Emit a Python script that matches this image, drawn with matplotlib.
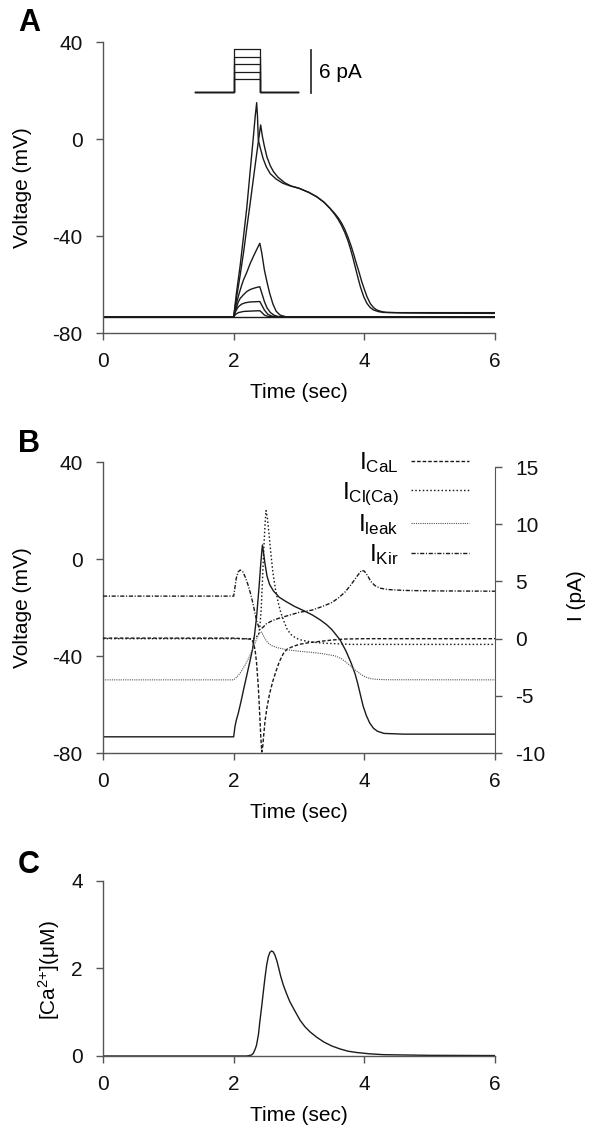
import matplotlib
matplotlib.use("Agg")
import matplotlib.pyplot as plt

plt.rcParams["font.family"] = ["Liberation Sans", "DejaVu Sans"]
plt.rcParams["mathtext.fontset"] = "custom"
plt.rcParams["mathtext.rm"] = "Liberation Sans"
plt.rcParams["mathtext.it"] = "Liberation Sans:italic"
plt.rcParams["mathtext.bf"] = "Liberation Sans:bold"
plt.rcParams["axes.unicode_minus"] = False

# ---------------- Panel A: voltage responses to current steps ----------------
t_flat = [0, 6]
v_flat = [-73.3, -73.3]

t_s1 = [0, 2.0, 2.03, 2.07, 2.15, 2.3, 2.40, 2.43, 2.47, 2.52, 2.6, 6.0]
v_s1 = [-73.3, -73.3, -72.3, -71.6, -71.1, -70.9, -70.8, -71.5, -72.6, -73.1, -73.3, -73.3]

t_s2 = [0, 2.0, 2.03, 2.07, 2.12, 2.18, 2.25, 2.33, 2.40, 2.43, 2.47, 2.52, 2.58, 2.65, 6.0]
v_s2 = [-73.3, -73.3, -71.0, -69.2, -68.1, -67.5, -67.2, -67.1, -67.0, -68.5, -70.5, -72.2, -73.0, -73.3, -73.3]

t_s3 = [0, 2.0, 2.03, 2.07, 2.1, 2.15, 2.2, 2.25, 2.3, 2.35, 2.40, 2.43, 2.47, 2.51, 2.56, 2.62, 2.7, 6.0]
v_s3 = [-73.3, -73.3, -70.5, -67.2, -65.7, -64.2, -62.9, -62.1, -61.6, -61.2, -60.9, -63.5, -67.0, -69.6, -71.5, -72.7, -73.3, -73.3]

t_s4 = [0, 2.0, 2.04, 2.08, 2.12, 2.15, 2.2, 2.25, 2.3, 2.35, 2.40, 2.43, 2.47, 2.51, 2.55, 2.6, 2.65, 2.71, 2.8, 6.0]
v_s4 = [-73.3, -73.3, -68.0, -64.0, -60.5, -58.1, -55.0, -51.5, -48.5, -45.7, -43.0, -47.0, -54.0, -59.0, -63.5, -68.0, -71.0, -72.6, -73.3, -73.3]

t_ap1 = [0, 2.0, 2.04, 2.07, 2.1, 2.16, 2.2, 2.26, 2.3, 2.33, 2.352, 2.365, 2.377, 2.41, 2.45, 2.5,
         2.56, 2.65, 2.75, 2.85, 3.0, 3.15, 3.271, 3.38, 3.475, 3.55, 3.6, 3.65, 3.70, 3.75, 3.79,
         3.83, 3.87, 3.91, 3.94, 3.99, 4.04, 4.09, 4.14, 4.22, 4.29, 4.5, 5.0, 6.0]
v_ap1 = [-73.3, -73.3, -64.0, -58.0, -52.0, -38.0, -28.5, -11.0, 0.5, 9.5, 15.0, 9.0, -0.4, -4.0, -8.0, -11.5,
         -14.3, -16.5, -18.2, -19.2, -20.3, -22.0, -23.8, -26.0, -28.6, -31.2, -33.2, -35.6, -38.5, -42.0, -45.5,
         -49.5, -53.8, -58.0, -61.0, -65.0, -67.8, -69.5, -70.5, -71.2, -71.5, -71.6, -71.6, -71.6]

t_ap2 = [0, 2.0, 2.04, 2.097, 2.15, 2.199, 2.25, 2.301, 2.34, 2.378, 2.413, 2.44, 2.47, 2.51, 2.56,
         2.61, 2.68, 2.78, 2.88, 3.0, 3.15, 3.271, 3.38, 3.475, 3.55, 3.6, 3.65, 3.7, 3.75, 3.8, 3.84,
         3.88, 3.92, 3.96, 3.99, 4.04, 4.09, 4.14, 4.19, 4.27, 4.34, 4.6, 5.0, 6.0]
v_ap2 = [-73.3, -73.3, -66.0, -56.5, -47.0, -37.0, -27.0, -16.5, -8.5, -1.0, 5.8, 1.0, -3.0, -7.5, -11.0,
         -13.5, -15.8, -18.0, -19.4, -20.3, -22.0, -23.8, -26.0, -28.6, -30.8, -32.5, -34.6, -37.2, -40.5, -44.3, -47.8,
         -51.5, -55.0, -58.8, -61.2, -65.0, -67.8, -69.5, -70.5, -71.2, -71.5, -71.7, -71.8, -71.9]

# stimulus inset (drawn in panel A data units)
stim_t = [1.408, 2.005, 2.005, 2.403, 2.403, 2.985]
stim_base = 19.26
stim_levels = [24.74, 27.75, 30.93, 33.94, 36.99]
bar_t = 3.19
bar_v = [19.0, 36.7]

# ---------------- Panel B: voltage and currents ----------------
t_vb = [0, 2.0, 2.02, 2.04, 2.07, 2.11, 2.15, 2.2, 2.25, 2.29, 2.32, 2.35, 2.37, 2.39, 2.41, 2.425,
        2.44, 2.455, 2.48, 2.51, 2.55, 2.61, 2.7, 2.8, 2.93, 3.05, 3.2, 3.32, 3.42, 3.5, 3.56, 3.63,
        3.72, 3.8, 3.86, 3.9, 3.94, 3.98, 4.03, 4.08, 4.14, 4.2, 4.3, 4.6, 6.0]
v_vb = [-73.3, -73.3, -69.0, -66.5, -63.6, -59.0, -54.0, -48.0, -42.0, -37.0, -31.0, -24.0, -17.5, -11.0, -3.5, 1.5,
        5.8, 3.0, -2.0, -7.0, -10.5, -13.2, -15.8, -17.5, -19.5, -21.0, -23.0, -25.0, -27.0, -29.0, -31.0, -33.4,
        -38.0, -43.0, -47.5, -51.5, -56.0, -60.5, -64.5, -67.5, -69.8, -71.0, -71.9, -72.2, -72.2]

t_cal = [0, 2.0, 2.28, 2.31, 2.33, 2.35, 2.377, 2.40, 2.415, 2.43, 2.445, 2.46, 2.48, 2.51, 2.55, 2.6,
         2.65, 2.7, 2.76, 2.82, 2.9, 3.0, 3.15, 3.3, 3.5, 3.7, 4.0, 6.0]
i_cal = [0.05, 0.05, -0.05, -0.5, -1.1, -2.1, -4.2, -6.8, -8.6, -9.9, -9.4, -8.4, -7.2, -6.0, -4.8, -3.7,
         -2.8, -2.0, -1.3, -0.9, -0.7, -0.5, -0.35, -0.25, -0.12, -0.03, 0.0, 0.0]

t_clca = [0, 2.0, 2.3, 2.38, 2.40, 2.42, 2.44, 2.46, 2.48, 2.495, 2.515, 2.54, 2.57, 2.6, 2.64, 2.68,
          2.72, 2.77, 2.82, 2.88, 2.95, 3.05, 3.2, 3.4, 3.6, 3.8, 4.0, 6.0]
i_clca = [0.0, 0.0, 0.0, 0.3, 1.0, 2.5, 5.0, 7.8, 10.0, 11.2, 10.6, 9.2, 7.4, 5.8, 4.3, 3.2,
          2.3, 1.5, 0.8, 0.35, 0.05, -0.15, -0.3, -0.4, -0.45, -0.5, -0.5, -0.5]

t_leak = [0, 2.0, 2.05, 2.1, 2.17, 2.23, 2.28, 2.32, 2.35, 2.38, 2.41, 2.43, 2.46, 2.5, 2.55, 2.6,
          2.68, 2.8, 3.0, 3.2, 3.35, 3.55, 3.65, 3.75, 3.85, 3.92, 3.98, 4.05, 4.12, 4.2, 4.35, 6.0]
i_leak = [-3.6, -3.6, -3.35, -3.0, -2.35, -1.7, -1.05, -0.5, -0.05, 0.35, 0.6, 0.55, 0.2, -0.2, -0.5, -0.65,
          -0.8, -0.95, -1.1, -1.2, -1.3, -1.5, -1.75, -2.2, -2.7, -3.0, -3.25, -3.42, -3.52, -3.56, -3.59, -3.6]

t_kir = [0, 2.0, 2.02, 2.04, 2.07, 2.1, 2.14, 2.18, 2.22, 2.26, 2.3, 2.33, 2.36, 2.40, 2.45, 2.5,
         2.6, 2.7, 2.85, 3.0, 3.2, 3.35, 3.5, 3.6, 3.7, 3.78, 3.85, 3.9, 3.96, 4.0, 4.05, 4.1,
         4.16, 4.24, 4.35, 4.6, 5.0, 6.0]
i_kir = [3.72, 3.72, 4.5, 5.3, 5.85, 6.0, 5.85, 5.35, 4.7, 3.9, 2.95, 2.1, 1.4, 0.8, 1.0, 1.3,
         1.6, 1.8, 2.05, 2.3, 2.5, 2.8, 3.15, 3.55, 4.05, 4.6, 5.15, 5.55, 5.98, 5.9, 5.5, 5.0,
         4.65, 4.42, 4.3, 4.22, 4.18, 4.15]

# ---------------- Panel C: intracellular calcium ----------------
t_ca = [0, 2.2, 2.27, 2.3, 2.33, 2.35, 2.38, 2.40, 2.43, 2.454, 2.48, 2.505, 2.53, 2.555, 2.58, 2.605,
        2.63, 2.66, 2.684, 2.72, 2.76, 2.81, 2.86, 2.94, 3.015, 3.09, 3.17, 3.27, 3.38, 3.5, 3.63,
        3.75, 3.88, 4.08, 4.3, 5.0, 6.0]
ca = [0, 0, 0.02, 0.06, 0.16, 0.25, 0.5, 0.78, 1.15, 1.47, 1.8, 2.08, 2.27, 2.37, 2.40, 2.38,
      2.31, 2.18, 2.04, 1.82, 1.62, 1.42, 1.24, 1.02, 0.82, 0.67, 0.55, 0.43, 0.32, 0.23, 0.16,
      0.11, 0.08, 0.05, 0.03, 0.015, 0.01]

line_c = "#1a1a1a"
spine_c = "#555555"
fs = 15


def style_axis(ax, yticks):
    for side in ["top", "right"]:
        ax.spines[side].set_visible(False)
    for side in ["left", "bottom"]:
        ax.spines[side].set_color(spine_c)
        ax.spines[side].set_linewidth(1.0)
    ax.set_xlim(0, 6)
    ax.set_xticks([0, 2, 4, 6])
    ax.set_yticks(yticks)
    ax.tick_params(axis="both", direction="out", length=5, width=1.0,
                   color=spine_c, labelsize=fs, labelcolor="#111111")
    ax.tick_params(axis="y", pad=9.5)
    ax.tick_params(axis="x", pad=8.5)
    ax.set_xlabel("Time (sec)", fontsize=fs)
    ax.xaxis.set_label_coords(0.5, -0.172)


fig = plt.figure(figsize=(5.91, 11.27), dpi=100)

# ---- A ----
axA = fig.add_axes([0.1743, 0.7045, 0.6633, 0.2582])
for tt, vv in [(t_flat, v_flat), (t_s1, v_s1), (t_s2, v_s2), (t_s3, v_s3),
               (t_s4, v_s4), (t_ap2, v_ap2), (t_ap1, v_ap1)]:
    axA.plot(tt, vv, color=line_c, lw=1.0)
for lev in stim_levels:
    axA.plot(stim_t, [stim_base, stim_base, lev, lev, stim_base, stim_base],
             color=line_c, lw=0.9)
axA.plot([bar_t, bar_t], bar_v, color="#333333", lw=1.3)
axA.text(bar_t + 0.12, 27.4, "6 pA", fontsize=fs, va="center", ha="left")
axA.set_ylim(-80, 40)
style_axis(axA, [-80, -40, 0, 40])
axA.set_ylabel("Voltage (mV)", fontsize=fs)
axA.yaxis.set_label_coords(-0.181, 0.5)

# ---- B ----
axB = fig.add_axes([0.1743, 0.3318, 0.6633, 0.2582])
axB.plot(t_vb, v_vb, color=line_c, lw=1.0)
axB.set_ylim(-80, 40)
style_axis(axB, [-80, -40, 0, 40])
axB.set_ylabel("Voltage (mV)", fontsize=fs)
axB.yaxis.set_label_coords(-0.181, 0.5)

axB2 = axB.twinx()
l_cal, = axB2.plot(t_cal, i_cal, color=line_c, lw=1.0, ls=(0, (2.6, 1.4)),
                   label=r"$\mathregular{I_{CaL}}$")
l_clca, = axB2.plot(t_clca, i_clca, color=line_c, lw=1.0, ls=(0, (1.1, 1.6)),
                    label=r"$\mathregular{I_{Cl(Ca)}}$")
l_leak, = axB2.plot(t_leak, i_leak, color="#555555", lw=0.8, ls=(0, (1.0, 1.0)),
                    label=r"$\mathregular{I_{leak}}$")
l_kir, = axB2.plot(t_kir, i_kir, color=line_c, lw=1.0, ls=(0, (3.0, 1.2, 0.8, 1.2)),
                   label=r"$\mathregular{I_{Kir}}$")
axB2.set_ylim(-10, 15.44)
axB2.set_yticks([-10, -5, 0, 5, 10, 15])
for side in ["top", "left", "bottom"]:
    axB2.spines[side].set_visible(False)
axB2.spines["right"].set_color(spine_c)
axB2.spines["right"].set_bounds(-10, 15)
axB2.tick_params(axis="y", direction="out", length=5, width=1.0, color=spine_c,
                 labelsize=fs, labelcolor="#111111", pad=9.5)
axB2.set_ylabel("I (pA)", fontsize=fs)
axB2.yaxis.set_label_coords(1.184, 0.54)
axB2.legend(handles=[l_cal, l_clca, l_leak, l_kir], loc="upper right",
            bbox_to_anchor=(0.934, 1.04), frameon=False, markerfirst=False,
            fontsize=17.5, handlelength=2.4, handletextpad=0.5, labelspacing=0.2,
            borderpad=0, borderaxespad=0)

# ---- C ----
axC = fig.add_axes([0.1743, 0.0630, 0.6633, 0.1553])
axC.plot(t_ca, ca, color=line_c, lw=1.0)
axC.set_ylim(0, 4)
style_axis(axC, [0, 2, 4])
axC.xaxis.set_label_coords(0.5, -0.286)
axC.set_ylabel(r"[Ca$^{\mathregular{2{+}}}$](μM)", fontsize=fs)
axC.yaxis.set_label_coords(-0.105, 0.49)

# panel letters
for letter, ypx in [("A", 23), ("B", 444), ("C", 865)]:
    fig.text(18 / 591, 1 - ypx / 1127, letter, fontsize=22, fontweight="bold",
             va="center", ha="left")

fig.savefig("out.png", dpi=100)
plt.close(fig)
